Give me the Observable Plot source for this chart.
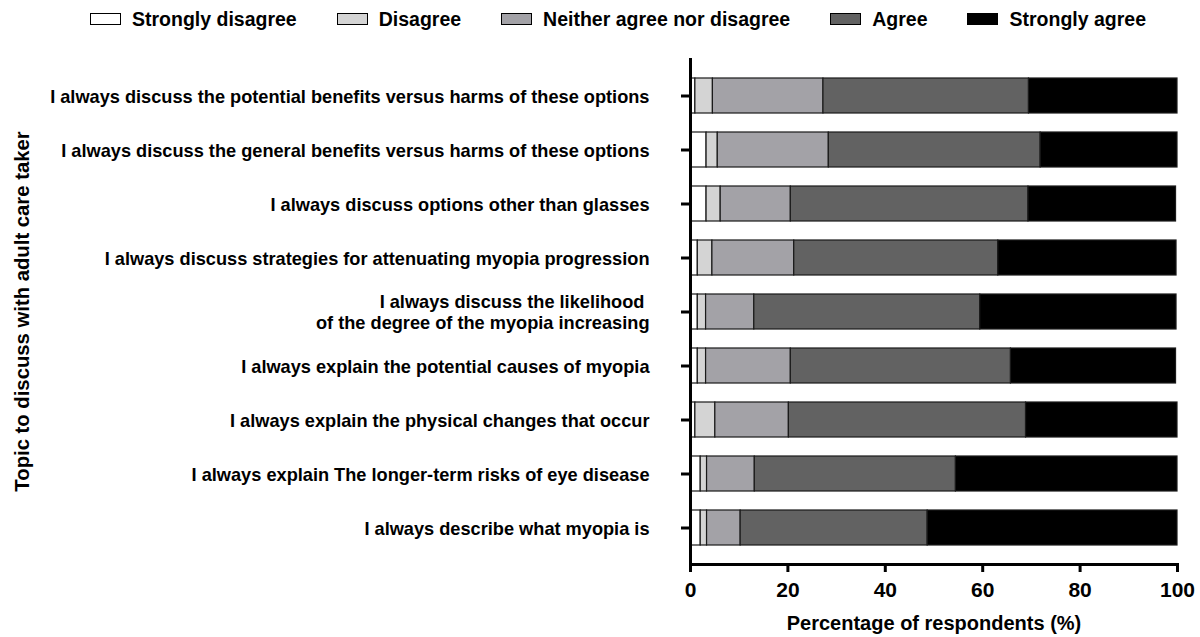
<!DOCTYPE html>
<html>
<head>
<meta charset="utf-8">
<script src="https://cdn.jsdelivr.net/npm/d3@7"></script>
<script src="https://cdn.jsdelivr.net/npm/@observablehq/plot@0.6"></script>
<style>
  html, body { margin: 0; padding: 0; background: #fff; }
  body { width: 1200px; height: 637px; overflow: hidden; font-family: "Liberation Sans", Arial, sans-serif; font-weight: bold; color: #000; }
  #legend { height: 44px; display: flex; align-items: center; padding-left: 90px; padding-bottom: 6px; box-sizing: border-box; font-size: 19.5px; }
  .item { display: flex; align-items: center; margin-right: 40px; }
  .sw { width: 29px; height: 10px; border: 1.5px solid #000; margin-right: 11px; }
</style>
</head>
<body>
<div id="legend"></div>
<div id="chart"></div>
<script>
const categories = [
  "I always discuss the potential benefits versus harms of these options",
  "I always discuss the general benefits versus harms of these options",
  "I always discuss options other than glasses",
  "I always discuss strategies for attenuating myopia progression",
  "I always discuss the likelihood \nof the degree of the myopia increasing",
  "I always explain the potential causes of myopia",
  "I always explain the physical changes that occur",
  "I always explain The longer-term risks of eye disease",
  "I always describe what myopia is"
];
const responses = ["Strongly disagree", "Disagree", "Neither agree nor disagree", "Agree", "Strongly agree"];
const colors = ["#ffffff", "#d4d4d4", "#a3a2a7", "#626262", "#000000"];

const stronglyDisagree = [1.0, 3.3, 3.3, 1.5, 1.5, 1.5, 1.0, 2.1, 2.1];
const disagree         = [3.6, 2.3, 2.9, 3.0, 1.7, 1.7, 4.1, 1.3, 1.3];
const neither          = [22.7, 22.8, 14.4, 16.8, 9.9, 17.4, 15.1, 9.8, 6.9];
const agree            = [42.2, 43.5, 48.8, 41.9, 46.4, 45.2, 48.7, 41.3, 38.4];
const stronglyAgree    = [30.5, 28.1, 30.3, 36.6, 40.3, 33.9, 31.1, 45.5, 51.3];

const xTicks = [0, 20, 40, 60, 80, 100];

const series = [stronglyDisagree, disagree, neither, agree, stronglyAgree];
const data = [];
categories.forEach((c, i) => {
  responses.forEach((r, j) => data.push({topic: c, response: r, value: series[j][i]}));
});

// legend
const legend = document.getElementById("legend");
responses.forEach((r, j) => {
  const it = document.createElement("div");
  it.className = "item";
  const sw = document.createElement("div");
  sw.className = "sw";
  sw.style.background = colors[j];
  const t = document.createElement("span");
  t.textContent = r;
  it.appendChild(sw); it.appendChild(t);
  legend.appendChild(it);
});

const chart = Plot.plot({
  width: 1200,
  height: 593,
  marginLeft: 690,
  marginRight: 23,
  marginTop: 14,
  marginBottom: 73,
  style: {fontFamily: "'Liberation Sans', Arial, sans-serif", fontWeight: "bold", fontSize: "18px", color: "#000", background: "#fff"},
  x: {domain: [0, 100]},
  y: {domain: categories, padding: 0.36},
  color: {domain: responses, range: colors},
  marks: [
    Plot.barX(data, Plot.stackX({
      y: "topic", x: "value", fill: "response", order: responses,
      stroke: "#1a1a1a", strokeWidth: 1.2
    })),
    Plot.ruleX([0], {strokeWidth: 3}),
    Plot.frame({anchor: "bottom", strokeWidth: 3}),
    Plot.axisX({ticks: xTicks, tickSize: 8, strokeWidth: 3, tickPadding: 10, fontSize: 21,
      label: "Percentage of respondents (%)", labelAnchor: "center", labelOffset: 65, labelArrow: "none"}),
    Plot.axisY({tickSize: 9, strokeWidth: 3, tickPadding: 32, fontSize: 18.2, lineHeight: 1.15,
      label: "Topic to discuss with adult care taker", labelAnchor: "center", labelOffset: 676, labelArrow: "none"})
  ]
});
// axis title sizes
chart.querySelectorAll("g[aria-label='y-axis label'] text").forEach(t => t.setAttribute("font-size", 20.3));
chart.querySelectorAll("g[aria-label='x-axis label'] text").forEach(t => t.setAttribute("font-size", 20));
document.getElementById("chart").appendChild(chart);
</script>
</body>
</html>
